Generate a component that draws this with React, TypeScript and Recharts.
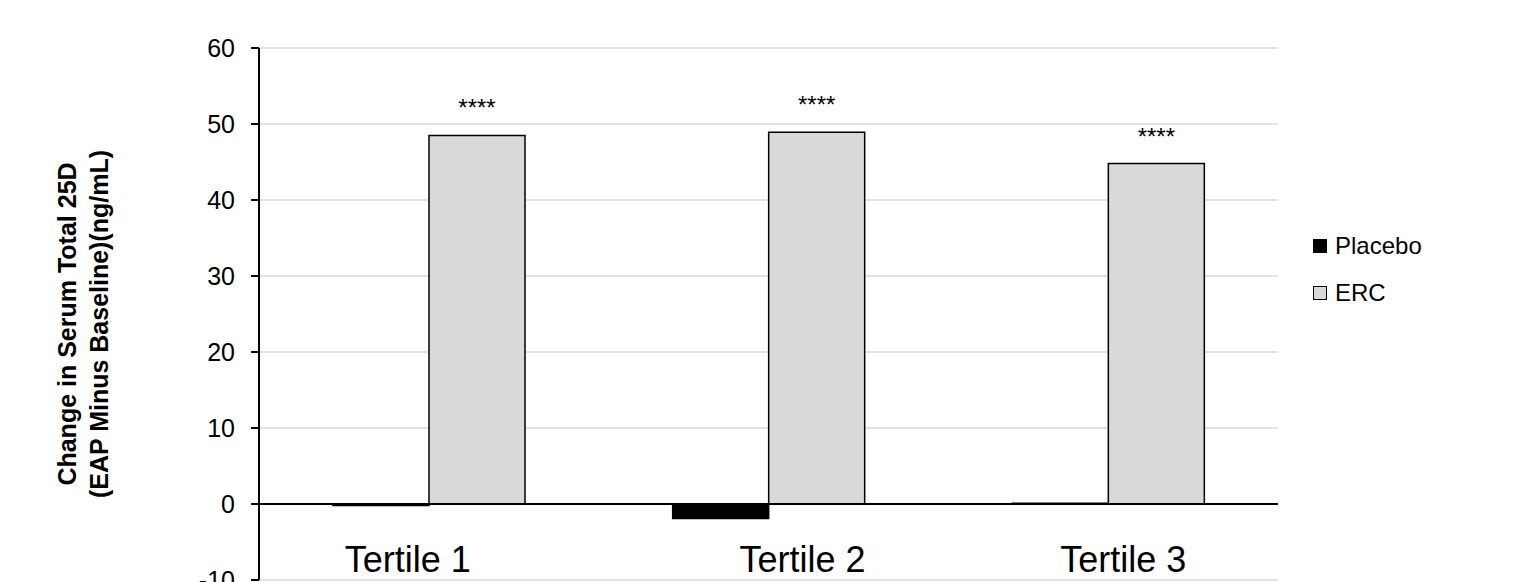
import React from 'react'
import {
  Bar,
  BarChart,
  CartesianGrid,
  LabelList,
  ReferenceLine,
  XAxis,
  YAxis,
} from 'recharts'

const categories = ['Tertile 1', 'Tertile 2', 'Tertile 3']
const placeboValues = [-0.2, -1.9, 0.1]
const ercValues = [48.5, 48.9, 44.8]
const significance = ['****', '****', '****']
const yTicks = [-10, 0, 10, 20, 30, 40, 50, 60]

// the category labels in the original are not quite centred under their bars
const tickShift = [-21, 34, 15]

const FONT = '"Liberation Sans", Arial, sans-serif'

const chartData = categories.map((name, i) => ({
  name,
  placebo: placeboValues[i],
  erc: ercValues[i],
  sig: significance[i],
}))

const legendItems = [
  { label: 'Placebo', fill: '#000' },
  { label: 'ERC', fill: '#d9d9d9' },
]

const CategoryTick = (props: any) => {
  const { x, y, payload, index } = props
  return (
    <text
      x={x + tickShift[index]}
      y={y - 8}
      textAnchor="middle"
      fontSize={36}
      fontFamily={FONT}
      fill="#000"
    >
      {payload.value}
    </text>
  )
}

const Stars = (props: any) => {
  const { x, y, width, value } = props
  return (
    <text
      x={x + width / 2}
      y={y - 19}
      textAnchor="middle"
      fontSize={24}
      fontFamily={FONT}
      fill="#000"
    >
      {value}
    </text>
  )
}

const App = () => {
  return (
    <div style={{ position: 'absolute', left: 0, top: 0, width: 1539, height: 630 }}>
      <BarChart
        width={1539}
        height={630}
        data={chartData}
        margin={{ top: 48, right: 261, bottom: 20, left: 0 }}
        barSize={96}
        barGap={0}
      >
        <CartesianGrid vertical={false} stroke="#d9d9d9" strokeWidth={1.5} />
        <XAxis
          dataKey="name"
          height={30}
          axisLine={false}
          tickLine={false}
          tickSize={0}
          tickMargin={0}
          tick={<CategoryTick />}
          interval={0}
        />
        <YAxis
          width={259}
          domain={[-10, 60]}
          ticks={yTicks}
          interval={0}
          axisLine={{ stroke: '#000', strokeWidth: 2 }}
          tickLine={{ stroke: '#000', strokeWidth: 2 }}
          tickSize={8}
          tickMargin={16}
          tick={{ fontSize: 25, fill: '#000', fontFamily: FONT }}
        />
        <Bar
          dataKey="placebo"
          name="Placebo"
          fill="#000"
          stroke="#000"
          strokeWidth={1.5}
          isAnimationActive={false}
        />
        <Bar
          dataKey="erc"
          name="ERC"
          fill="#d9d9d9"
          stroke="#000"
          strokeWidth={1.5}
          isAnimationActive={false}
        >
          <LabelList dataKey="sig" content={<Stars />} />
        </Bar>
        <ReferenceLine y={0} stroke="#000" strokeWidth={2} />
      </BarChart>
      <div
        style={{
          position: 'absolute',
          left: 1313,
          top: 222,
          fontFamily: FONT,
          fontSize: 24,
          color: '#000',
        }}
      >
        {legendItems.map((it) => (
          <div key={it.label} style={{ display: 'flex', alignItems: 'center', height: 47 }}>
            <span
              style={{
                display: 'inline-block',
                width: 12,
                height: 12,
                background: it.fill,
                border: '1px solid #000',
                marginRight: 8,
              }}
            />
            {it.label}
          </div>
        ))}
      </div>
      <svg
        width={140}
        height={600}
        style={{ position: 'absolute', left: 0, top: 0, pointerEvents: 'none' }}
      >
        <text
          transform="translate(76, 324) rotate(-90)"
          textAnchor="middle"
          fontSize={25}
          fontWeight="bold"
          fontFamily={FONT}
          fill="#000"
        >
          <tspan x={0} y={0}>Change in Serum Total 25D</tspan>
          <tspan x={0} y={32}>(EAP Minus Baseline)(ng/mL)</tspan>
        </text>
      </svg>
    </div>
  )
}

export default App
